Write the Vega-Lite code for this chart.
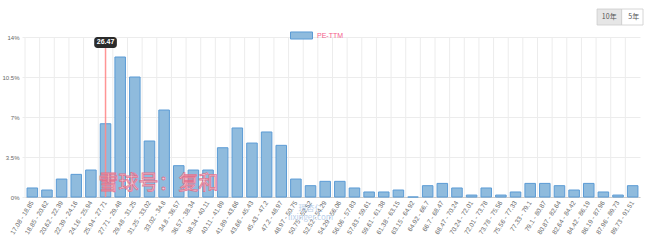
{
  "$schema": "https://vega.github.io/schema/vega-lite/v6.json",
  "width": 615,
  "height": 160,
  "autosize": {"type": "none"},
  "padding": {"left": 25, "top": 37, "right": 20, "bottom": 48},
  "config": {
    "font": "Liberation Sans",
    "view": {"stroke": null},
    "axis": {"gridColor": "#ececec", "labelColor": "#666666", "labelFont": "Liberation Sans"},
    "axisY": {"labelOverlap": false, "grid": true, "labelFontSize": 6, "domain": false, "tickSize": 3, "tickColor": "#ececec", "labelPadding": 3, "title": null}
  },
  "data": {
    "values": [
      {"range": "17.08 - 18.85", "pct": 0.79, "series": "PE-TTM"},
      {"range": "18.85 - 20.62", "pct": 0.61, "series": "PE-TTM"},
      {"range": "20.62 - 22.39", "pct": 1.57, "series": "PE-TTM"},
      {"range": "22.39 - 24.16", "pct": 1.98, "series": "PE-TTM"},
      {"range": "24.16 - 25.94", "pct": 2.36, "series": "PE-TTM"},
      {"range": "25.94 - 27.71", "pct": 6.41, "series": "PE-TTM"},
      {"range": "27.71 - 29.48", "pct": 12.25, "series": "PE-TTM"},
      {"range": "29.48 - 31.25", "pct": 10.5, "series": "PE-TTM"},
      {"range": "31.25 - 33.02", "pct": 4.9, "series": "PE-TTM"},
      {"range": "33.02 - 34.8", "pct": 7.61, "series": "PE-TTM"},
      {"range": "34.8 - 36.57", "pct": 2.74, "series": "PE-TTM"},
      {"range": "36.57 - 38.34", "pct": 2.36, "series": "PE-TTM"},
      {"range": "38.34 - 40.11", "pct": 2.36, "series": "PE-TTM"},
      {"range": "40.11 - 41.89", "pct": 4.31, "series": "PE-TTM"},
      {"range": "41.89 - 43.66", "pct": 6.04, "series": "PE-TTM"},
      {"range": "43.66 - 45.43", "pct": 4.72, "series": "PE-TTM"},
      {"range": "45.43 - 47.2", "pct": 5.69, "series": "PE-TTM"},
      {"range": "47.2 - 48.97", "pct": 4.52, "series": "PE-TTM"},
      {"range": "48.97 - 50.75", "pct": 1.57, "series": "PE-TTM"},
      {"range": "50.75 - 52.52", "pct": 0.99, "series": "PE-TTM"},
      {"range": "52.52 - 54.29", "pct": 1.37, "series": "PE-TTM"},
      {"range": "54.29 - 56.06", "pct": 1.37, "series": "PE-TTM"},
      {"range": "56.06 - 57.83", "pct": 0.79, "series": "PE-TTM"},
      {"range": "57.83 - 59.61", "pct": 0.44, "series": "PE-TTM"},
      {"range": "59.61 - 61.38", "pct": 0.44, "series": "PE-TTM"},
      {"range": "61.38 - 63.15", "pct": 0.61, "series": "PE-TTM"},
      {"range": "63.15 - 64.92", "pct": 0, "series": "PE-TTM"},
      {"range": "64.92 - 66.7", "pct": 0.99, "series": "PE-TTM"},
      {"range": "66.7 - 68.47", "pct": 1.19, "series": "PE-TTM"},
      {"range": "68.47 - 70.24", "pct": 0.79, "series": "PE-TTM"},
      {"range": "70.24 - 72.01", "pct": 0.17, "series": "PE-TTM"},
      {"range": "72.01 - 73.78", "pct": 0.79, "series": "PE-TTM"},
      {"range": "73.78 - 75.56", "pct": 0.17, "series": "PE-TTM"},
      {"range": "75.56 - 77.33", "pct": 0.44, "series": "PE-TTM"},
      {"range": "77.33 - 79.1", "pct": 1.19, "series": "PE-TTM"},
      {"range": "79.1 - 80.87", "pct": 1.19, "series": "PE-TTM"},
      {"range": "80.87 - 82.64", "pct": 0.99, "series": "PE-TTM"},
      {"range": "82.64 - 84.42", "pct": 0.61, "series": "PE-TTM"},
      {"range": "84.42 - 86.19", "pct": 1.19, "series": "PE-TTM"},
      {"range": "86.19 - 87.96", "pct": 0.44, "series": "PE-TTM"},
      {"range": "87.96 - 89.73", "pct": 0.17, "series": "PE-TTM"},
      {"range": "89.73 - 91.51", "pct": 0.99, "series": "PE-TTM"}
    ]
  },
  "encoding": {
    "y": {
      "type": "quantitative",
      "scale": {"domain": [0, 14], "nice": false, "zero": true},
      "axis": {"values": [0, 3.5, 7, 10.5, 14], "labelExpr": "datum.value + '%'", "labelOverlap": false}
    }
  },
  "layer": [
    {
      "mark": {"type": "rule", "color": "#ececec", "strokeWidth": 1},
      "encoding": {
        "x": {"field": "range", "type": "nominal", "sort": null, "bandPosition": 0},
        "y": {"datum": 14, "type": "quantitative", "axis": {"values": [0, 3.5, 7, 10.5, 14], "labelExpr": "datum.value + '%'", "labelOverlap": false}},
        "y2": {"datum": 0}
      }
    },
    {
      "mark": {"type": "bar", "width": {"band": 0.72}, "stroke": "#5b9bd5", "strokeWidth": 1},
      "encoding": {
        "x": {
          "field": "range", "type": "nominal", "sort": null,
          "scale": {"paddingInner": 0, "paddingOuter": 0},
          "axis": {
            "title": null, "labelAngle": -58, "labelAlign": "right", "labelBaseline": "middle",
            "labelFontSize": 6.5, "labelPadding": 4, "ticks": false, "grid": false,
            "domainColor": "#cccccc", "labelOverlap": false, "labelBound": false, "labelLimit": 80
          }
        },
        "y": {"field": "pct", "type": "quantitative"},
        "color": {
          "field": "series", "type": "nominal",
          "scale": {"range": ["#8fbbdd"]},
          "legend": {
            "title": null, "orient": "none", "legendX": 265, "legendY": -13,
            "symbolType": "M-1,-0.32H1V0.32H-1Z", "symbolSize": 484,
            "symbolStrokeColor": "#5b9bd5", "symbolStrokeWidth": 1, "symbolOpacity": 1,
            "labelColor": "#f5608c", "labelFontSize": 7, "labelOffset": 4, "padding": 0
          }
        }
      }
    },
    {
      "data": {"values": [{}]},
      "mark": {"type": "rule", "color": "#ff8a8a", "strokeWidth": 1.5, "opacity": 0.9},
      "encoding": {
        "x": {"datum": "25.94 - 27.71"},
        "y": {"datum": 13.04},
        "y2": {"datum": 0}
      }
    },
    {
      "data": {"values": [{}]},
      "mark": {"type": "rect", "fill": "#2b2b2b", "cornerRadius": 3, "xOffset": -4, "x2Offset": 4},
      "encoding": {
        "x": {"datum": "25.94 - 27.71", "bandPosition": 0},
        "x2": {"datum": "25.94 - 27.71", "bandPosition": 1},
        "y": {"datum": 14},
        "y2": {"datum": 13.04}
      }
    },
    {
      "data": {"values": [{}]},
      "mark": {"type": "text", "color": "#ffffff", "fontWeight": "bold", "fontSize": 7, "align": "center", "baseline": "middle"},
      "encoding": {
        "x": {"datum": "25.94 - 27.71"},
        "y": {"datum": 13.52},
        "text": {"value": "26.47"}
      }
    },
    {
      "data": {"values": [{}]},
      "mark": {"type": "text", "fill": "#f9d3db", "stroke": "#e66d88", "strokeWidth": 0.8, "fontSize": 20, "font": "Noto Sans CJK SC", "align": "center", "baseline": "middle", "dx": 9, "opacity": 0.9},
      "encoding": {
        "x": {"datum": "31.25 - 33.02"},
        "y": {"datum": 1.16},
        "text": {"value": "雪球号：复和"}
      }
    },
    {
      "data": {"values": [{}]},
      "mark": {"type": "text", "color": "#7fa8d8", "opacity": 0.55, "fontSize": 8, "font": "Noto Sans CJK SC", "align": "center", "baseline": "middle", "lineHeight": 9, "text": ["理杏仁", "lixinger.com"]},
      "encoding": {
        "x": {"datum": "50.75 - 52.52"},
        "y": {"datum": -1.05}
      }
    },
    {
      "data": {"values": [{}]},
      "mark": {"type": "rect", "fill": "#e6e6e6", "stroke": "#cccccc", "strokeWidth": 0.8, "xOffset": 1},
      "encoding": {
        "x": {"datum": "86.19 - 87.96", "bandPosition": 0},
        "x2": {"datum": "87.96 - 89.73", "bandPosition": 0.75},
        "y": {"datum": 16.45},
        "y2": {"datum": 15.05}
      }
    },
    {
      "data": {"values": [{}]},
      "mark": {"type": "rect", "fill": "#ffffff", "stroke": "#cccccc", "strokeWidth": 0.8, "x2Offset": 3},
      "encoding": {
        "x": {"datum": "87.96 - 89.73", "bandPosition": 0.75},
        "x2": {"datum": "89.73 - 91.51", "bandPosition": 1},
        "y": {"datum": 16.45},
        "y2": {"datum": 15.05}
      }
    },
    {
      "data": {"values": [{}]},
      "mark": {"type": "text", "color": "#555555", "fontSize": 7, "font": "Noto Sans CJK SC", "align": "center", "baseline": "middle"},
      "encoding": {
        "x": {"datum": "86.19 - 87.96", "bandPosition": 0.9},
        "y": {"datum": 15.75},
        "text": {"value": "10年"}
      }
    },
    {
      "data": {"values": [{}]},
      "mark": {"type": "text", "color": "#555555", "fontSize": 7, "font": "Noto Sans CJK SC", "align": "center", "baseline": "middle", "dx": 1},
      "encoding": {
        "x": {"datum": "89.73 - 91.51", "bandPosition": 0.5},
        "y": {"datum": 15.75},
        "text": {"value": "5年"}
      }
    }
  ]
}
